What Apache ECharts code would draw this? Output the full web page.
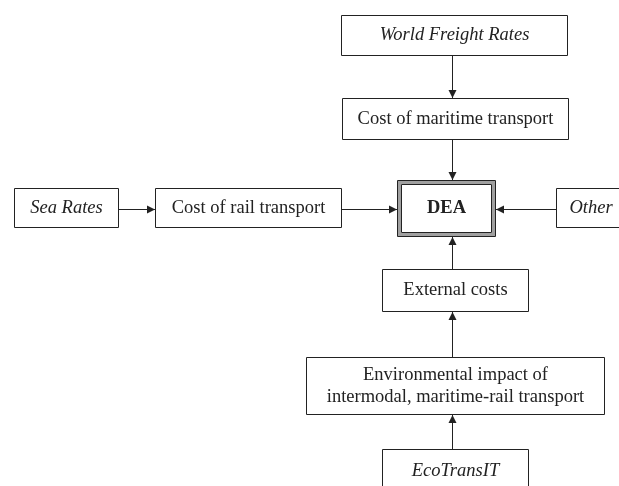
<!DOCTYPE html>
<html>
<head>
<meta charset="utf-8">
<script src="https://cdn.jsdelivr.net/npm/echarts@6/dist/echarts.min.js"></script>
<style>html,body{margin:0;padding:0;background:#fff}#c{width:619px;height:486px}</style>
</head>
<body>
<div id="c"></div>
<script>
// Node labels and styles (content)
var nodeIds = ['wfr', 'mar', 'sea', 'rail', 'dea', 'other', 'ext', 'env', 'eco'];
var nodeLabels = ['World Freight Rates', 'Cost of maritime transport', 'Sea Rates', 'Cost of rail transport', 'DEA', 'Other', 'External costs', 'Environmental impact of\nintermodal, maritime-rail transport', 'EcoTransIT'];
var nodeKinds = ['source', 'step', 'source', 'step', 'main', 'source', 'step', 'step', 'source'];
// Edges: from -> to
var edgeFrom = ['wfr', 'mar', 'sea', 'rail', 'other', 'ext', 'env', 'eco'];
var edgeTo   = ['mar', 'dea', 'rail', 'dea', 'dea', 'dea', 'ext', 'env'];

// Layout (positions/sizes in px): [x, y, w, h]
var layout = {
  wfr:   [341, 15, 227, 41],
  mar:   [342, 98, 227, 42],
  sea:   [14, 188, 105, 40],
  rail:  [155, 188, 187, 40],
  dea:   [397, 180, 99, 57],
  other: [556, 188, 70, 40],
  ext:   [382, 269, 147, 43],
  env:   [306, 357, 299, 58],
  eco:   [382, 449, 147, 45]
};
var spineX = 452.5, rowY = 209.5;
var ink = '#222';
var font = '"Liberation Serif", "DejaVu Serif", serif';
var fontSize = 18.5;

var g = [];
function crisp(v) { return Math.round(v) + 0.5; }
nodeIds.forEach(function (id, i) {
  var b = layout[id];
  var kind = nodeKinds[i];
  if (kind === 'main') {
    g.push({ type: 'rect', shape: { x: b[0] + 2.5, y: b[1] + 2.5, width: b[2] - 5, height: b[3] - 5 },
      style: { fill: '#fff', stroke: '#a0a0a0', lineWidth: 3 }, z: 1 });
    g.push({ type: 'rect', shape: { x: crisp(b[0]), y: crisp(b[1]), width: b[2] - 1, height: b[3] - 1 },
      style: { fill: null, stroke: ink, lineWidth: 1 }, z: 2 });
    g.push({ type: 'rect', shape: { x: crisp(b[0] + 4), y: crisp(b[1] + 4), width: b[2] - 9, height: b[3] - 9 },
      style: { fill: null, stroke: ink, lineWidth: 1 }, z: 2 });
  } else {
    g.push({ type: 'rect', shape: { x: crisp(b[0]), y: crisp(b[1]), width: b[2] - 1, height: b[3] - 1 },
      style: { fill: '#fff', stroke: ink, lineWidth: 1 }, z: 1 });
  }
  g.push({ type: 'text', x: b[0] + b[2] / 2, y: b[1] + b[3] / 2, z: 3,
    style: { text: nodeLabels[i], fill: ink, align: 'center', verticalAlign: 'middle',
      font: (kind === 'source' ? 'italic ' : '') + (kind === 'main' ? 'bold ' : '') + fontSize + 'px ' + font,
      lineHeight: 22 } });
});

function arrowHead(x, y, dir) {
  var L = 8, W = 4, pts;
  if (dir === 'down') pts = [[x, y], [x - W, y - L], [x + W, y - L]];
  if (dir === 'up') pts = [[x, y], [x - W, y + L], [x + W, y + L]];
  if (dir === 'right') pts = [[x, y], [x - L, y - W], [x - L, y + W]];
  if (dir === 'left') pts = [[x, y], [x + L, y - W], [x + L, y + W]];
  return { type: 'polygon', shape: { points: pts }, style: { fill: ink }, z: 4 };
}

edgeFrom.forEach(function (f, i) {
  var t = edgeTo[i];
  var a = layout[f], b = layout[t];
  var x1, y1, x2, y2, dir;
  if (a[1] + a[3] <= b[1]) { x1 = x2 = spineX; y1 = a[1] + a[3]; y2 = b[1]; dir = 'down'; }
  else if (b[1] + b[3] <= a[1]) { x1 = x2 = spineX; y1 = a[1]; y2 = b[1] + b[3]; dir = 'up'; }
  else if (a[0] + a[2] <= b[0]) { y1 = y2 = rowY; x1 = a[0] + a[2]; x2 = b[0]; dir = 'right'; }
  else { y1 = y2 = rowY; x1 = a[0]; x2 = b[0] + b[2]; dir = 'left'; }
  g.push({ type: 'line', shape: { x1: x1, y1: y1, x2: x2, y2: y2 }, style: { stroke: ink, lineWidth: 1 }, z: 0 });
  g.push(arrowHead(x2, y2, dir));
});

var chart = echarts.init(document.getElementById('c'), null, { renderer: 'canvas' });
chart.setOption({ backgroundColor: '#fff', animation: false, graphic: { elements: g } });
</script>
</body>
</html>
